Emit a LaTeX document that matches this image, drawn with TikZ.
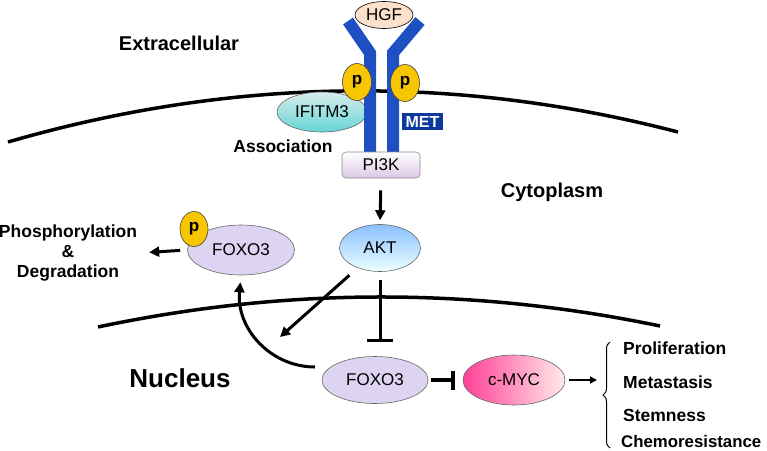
\documentclass[tikz,border=0pt]{standalone}
\usepackage{fontspec}
\setmainfont{Liberation Sans}
\usetikzlibrary{arrows.meta,decorations.pathreplacing,shapes.geometric,calc}
\definecolor{metblue}{RGB}{30,80,196}
\definecolor{metbox}{RGB}{12,58,156}
\definecolor{pyellow}{RGB}{248,198,0}
\definecolor{hgffill}{RGB}{251,224,204}
\definecolor{foxofill}{RGB}{220,212,240}
\definecolor{pifill}{RGB}{238,234,248}
\tikzset{
  membrane/.style={line width=3.5pt},
  stem/.style={line width=12pt,draw=metblue,line join=miter},
  oval/.style={ellipse,draw=black!60,line width=0.6pt,inner sep=0pt,font=\fontsize{17}{20}\selectfont},
  pdot/.style={ellipse,draw=black!75,line width=0.6pt,fill=pyellow,inner sep=0pt,minimum width=29pt,minimum height=37pt,font=\bfseries\fontsize{17}{18}\selectfont},
  lbl/.style={font=\bfseries\fontsize{17.5}{20}\selectfont,inner sep=0pt},
  big/.style={font=\bfseries\fontsize{20}{24}\selectfont,inner sep=0pt},
  arr/.style={line width=3pt,-{Triangle[length=10pt,width=10pt]}},
  thinarr/.style={line width=2pt,-{Triangle[length=7pt,width=7pt]}},
  inh/.style={line width=3pt,-{Bar[width=26pt,line width=3pt]}},
}
\begin{document}
\begin{tikzpicture}[x=1pt,y=-1pt]
\useasboundingbox (0,0) rectangle (767,450);
% membranes
\draw[membrane] (8,142) .. controls (231.3,77.3) and (454.7,74) .. (678,132);
\draw[membrane] (98,327) .. controls (285.3,287.3) and (472.7,287) .. (660,326);
% texts
\node[big] (extra) at (179,43) {Extracellular};
\node[big] (cyto) at (552,192) {Cytoplasm};
\node[font=\bfseries\fontsize{26}{30}\selectfont,inner sep=0pt] (nuc) at (180,378) {Nucleus};
\node[lbl] (assoc) at (283,146) {Association};
% IFITM3
\node[oval,minimum width=90pt,minimum height=40pt,top color=teal!15!white,bottom color=teal!55!cyan!60!white] (ifitm) at (322,112) {IFITM3};
% receptor
\draw[stem] (348,21) -- (370,53) -- (370,160);
\draw[stem] (420,21) -- (393,53) -- (393,160);
% HGF
\node[oval,draw=black,minimum width=58pt,minimum height=27pt,fill=hgffill] (hgf) at (384,15) {HGF};
% p circles
\node[pdot] (p1) at (357,82) {p};
\node[pdot] (p2) at (405,83) {p};
% MET label
\node[fill=metbox,text=white,font=\bfseries\fontsize{16}{18}\selectfont,minimum width=41pt,minimum height=17pt,inner sep=0pt] (met) at (422.5,121.5) {MET};
% PI3K
\node[draw=black!45,line width=0.6pt,rounded corners=4pt,top color=white,bottom color=pifill!85!violet,minimum width=78pt,minimum height=26pt,inner sep=0pt,font=\fontsize{17}{20}\selectfont] (pi) at (381,165) {PI3K};
% AKT
\node[oval,minimum width=81pt,minimum height=47pt,top color=cyan!45!blue!45!white,bottom color=cyan!8!white] (akt) at (380,248) {AKT};
% FOXO3 cytoplasm
\node[oval,minimum width=107pt,minimum height=50pt,fill=foxofill] (fc) at (241,250) {FOXO3};
\node[pdot,minimum width=28pt,minimum height=35pt] (p3) at (194,229) {p};
% phosphorylation
\node[lbl,align=center] (phos) at (68,253) {Phosphorylation\\\&\\Degradation};
% FOXO3 nucleus
\node[oval,minimum width=106pt,minimum height=47pt,fill=foxofill] (fn) at (375,380) {FOXO3};
% c-MYC
\node[oval,minimum width=102pt,minimum height=50pt,left color=red!55!magenta!75!white,right color=red!8!white] (cm) at (514,380) {c-MYC};
% outcomes
\node[lbl,anchor=west] (o1) at (623,348) {Proliferation};
\node[lbl,anchor=west] (o2) at (623,382) {Metastasis};
\node[lbl,anchor=west] (o3) at (623,415) {Stemness};
\node[lbl,anchor=west,font=\bfseries\fontsize{16.8}{20}\selectfont] (o4) at (621,441) {Chemoresistance};
\draw[line width=1pt,decorate,decoration={brace,amplitude=7pt}] (610,448) -- (610,342);
\coordinate (bt) at (597,380);
\coordinate (nsend) at (280,337);
\coordinate (cs) at (315,367);
% connectors
\draw[arr,shorten <=12pt,shorten >=4pt] (pi.south) -- (akt.north);
\draw[arr,shorten <=7pt,shorten >=12pt] (fc.west) -- (phos.east);
\draw[arr,shorten <=11pt] (akt) -- (nsend);
\draw[inh,shorten <=8pt,shorten >=14pt] (akt.south) -- (akt.south |- fn.north);
\draw[line width=4pt,-{Bar[width=19pt,line width=4pt]},shorten <=3pt,shorten >=8pt] (fn.east) -- (cm.west);
\draw[thinarr,shorten <=4pt] (cm.east) -- (bt);
\draw[arr,shorten >=7pt] (cs) .. controls (271,367) and (236,329) .. (fc.south);
\end{tikzpicture}
\end{document}
